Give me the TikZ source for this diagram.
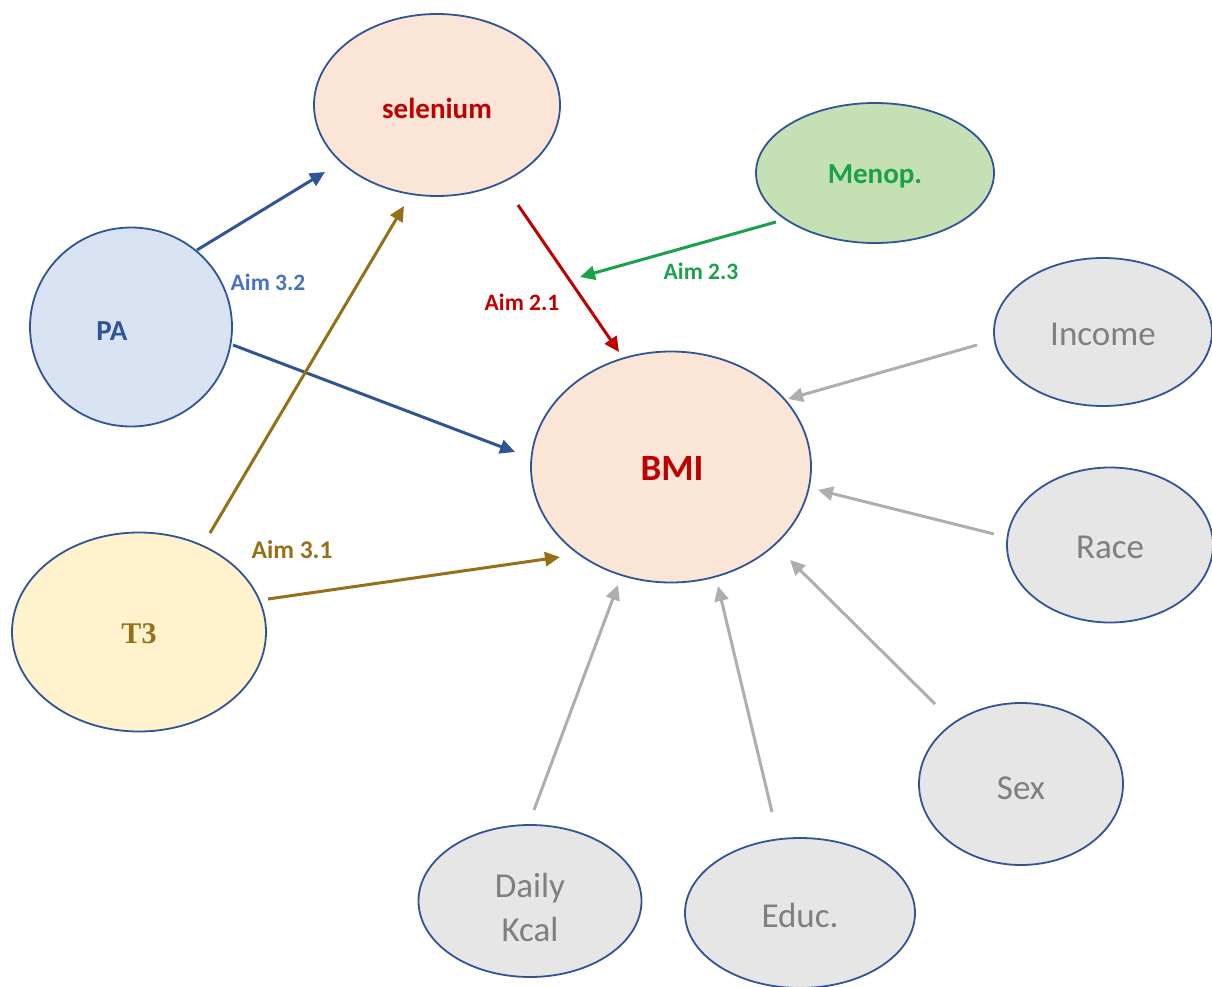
\documentclass[tikz,border=0pt]{standalone}
\usepackage{fontspec}
\setmainfont{Carlito}
\newfontfamily\serifb{Liberation Serif}
\usetikzlibrary{shapes.geometric,arrows.meta}
\definecolor{bord}{HTML}{2F5597}
\definecolor{peach}{HTML}{FBE5D6}
\definecolor{paleblue}{HTML}{DAE3F3}
\definecolor{paleyellow}{HTML}{FFF2CC}
\definecolor{palegreen}{HTML}{C5E0B4}
\definecolor{palegrey}{HTML}{E7E6E6}
\definecolor{darkred}{HTML}{C00000}
\definecolor{aimgreen}{HTML}{1BA14A}
\definecolor{olive}{HTML}{957017}
\definecolor{navy}{HTML}{2F5597}
\definecolor{lightnavy}{HTML}{4472C4}
\definecolor{greytext}{HTML}{7F7F7F}
\definecolor{greyarrow}{HTML}{AEAEAE}
\begin{document}
\begin{tikzpicture}[x=1pt,y=-1pt,
  ell/.style={ellipse,draw=bord,line width=1.8pt,inner sep=0pt},
  boldlab/.style={font=\fontsize{29}{32}\selectfont\bfseries},
  greylab/.style={font=\fontsize{35}{44}\selectfont,text=greytext,align=center},
  aimlab/.style={font=\fontsize{23.5}{26}\selectfont\bfseries},
  arr/.style={line width=3pt,-{Triangle[length=15pt,width=14pt]}},
  greyarr/.style={arr,draw=greyarrow}
]
\useasboundingbox (0,0) rectangle (1212,987);

% nodes
\node[ell,fill=peach,minimum width=246pt,minimum height=182pt] (sel) at (437,105) {};
\node[boldlab,text=darkred] (selt) at (437,108) {selenium};
\node[ell,fill=palegreen,minimum width=238pt,minimum height=140pt] (men) at (875,173) {};
\node[boldlab,text=aimgreen] (ment) at (875,176) {Menop.};
\node[ell,fill=paleblue,minimum width=202pt,minimum height=199pt] (pa) at (131,327) {};
\node[boldlab,text=navy] (pat) at (112,331) {PA};
\node[ell,fill=peach,minimum width=280pt,minimum height=231pt] (bmi) at (671,467) {};
\node[font=\fontsize{37}{40}\selectfont\bfseries,text=darkred] (bmit) at (672,469) {BMI};
\node[ell,fill=palegrey,minimum width=218pt,minimum height=148pt] (inc) at (1103,332) {};
\node[greylab] (inct) at (1103,334) {Income};
\node[ell,fill=palegrey,minimum width=206pt,minimum height=155pt] (race) at (1110,545) {};
\node[greylab] (racet) at (1110,547) {Race};
\node[ell,fill=paleyellow,minimum width=254pt,minimum height=199pt] (t3) at (139,632) {};
\node[font=\fontsize{30}{34}\selectfont\serifb\bfseries,text=olive] (t3t) at (139,634) {T3};
\node[ell,fill=palegrey,minimum width=204pt,minimum height=162pt] (sex) at (1021,784) {};
\node[greylab] (sext) at (1021,788) {Sex};
\node[ell,fill=palegrey,minimum width=223pt,minimum height=152pt] (kcal) at (530,901) {};
\node[greylab] (kcalt) at (530,907) {Daily\\Kcal};
\node[ell,fill=palegrey,minimum width=230pt,minimum height=150pt] (edu) at (800,913) {};
\node[greylab] (edut) at (800,915) {Educ.};

% connector end points
\coordinate (pa1) at (197,250);  \coordinate (sel1) at (325,172);
\coordinate (pa2) at (233,345);  \coordinate (bmi1) at (515,452);
\coordinate (t31) at (210,533);  \coordinate (sel2) at (404,206);
\coordinate (t32) at (268,599);  \coordinate (bmi2) at (560,557);
\coordinate (sel3) at (518,205); \coordinate (bmi3) at (619,352);
\coordinate (men1) at (776,222); \coordinate (red1) at (580,277);
\coordinate (inc1) at (977,345); \coordinate (bmi4) at (788,399);
\coordinate (race1) at (994,534);\coordinate (bmi5) at (818,490);
\coordinate (sex1) at (935,704); \coordinate (bmi6) at (790,560);
\coordinate (edu1) at (772,812); \coordinate (bmi7) at (718,586);
\coordinate (kcal1) at (534,810);\coordinate (bmi8) at (618,585);

% connectors
\draw[arr,draw=navy] (pa1) -- (sel1);
\draw[arr,draw=navy] (pa2) -- (bmi1);
\draw[arr,draw=olive] (t31) -- (sel2);
\draw[arr,draw=olive] (t32) -- (bmi2);
\draw[arr,draw=darkred] (sel3) -- (bmi3);
\draw[arr,draw=aimgreen] (men1) -- (red1);
\draw[greyarr] (inc1) -- (bmi4);
\draw[greyarr] (race1) -- (bmi5);
\draw[greyarr] (sex1) -- (bmi6);
\draw[greyarr] (edu1) -- (bmi7);
\draw[greyarr] (kcal1) -- (bmi8);

% labels
\node[aimlab,text=lightnavy] (l32) at (268,282) {Aim 3.2};
\node[aimlab,text=darkred] (l21) at (522,302) {Aim 2.1};
\node[aimlab,text=aimgreen] (l23) at (701,271) {Aim 2.3};
\node[aimlab,font=\fontsize{25.5}{28}\selectfont\bfseries,text=olive] (l31) at (292,550) {Aim 3.1};
\end{tikzpicture}
\end{document}
